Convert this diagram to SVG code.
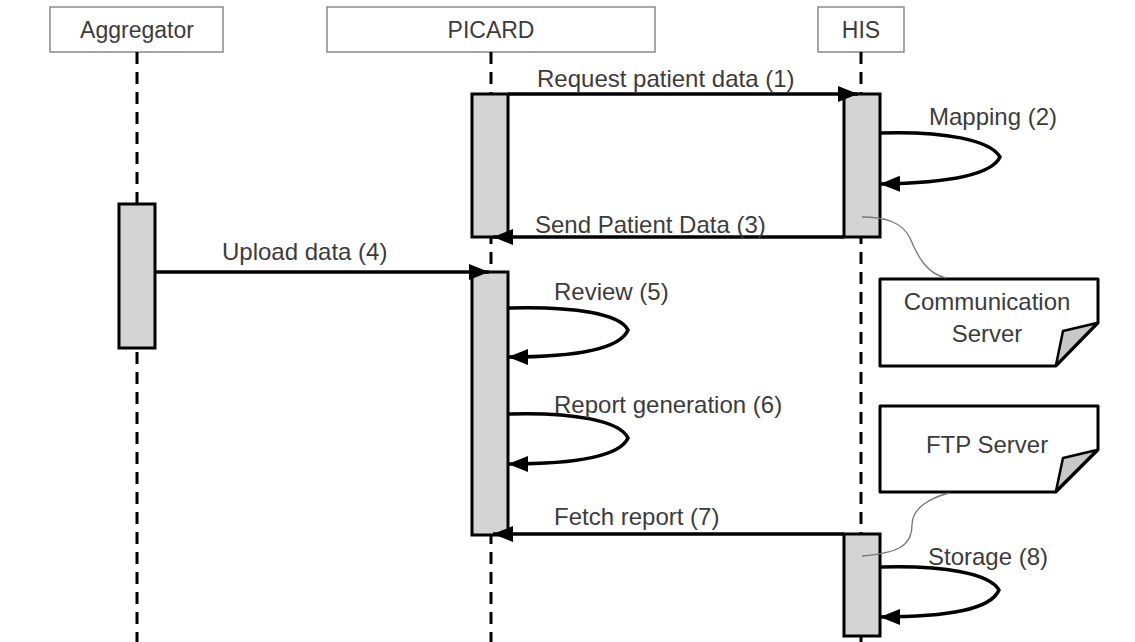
<svg xmlns="http://www.w3.org/2000/svg" width="1135" height="642" viewBox="0 0 1135 642">
<defs>
<marker id="ah" markerUnits="userSpaceOnUse" markerWidth="22" markerHeight="18" refX="20" refY="8" orient="auto">
<path d="M0,0 L20,8 L0,16 Z" fill="#000"/>
</marker>
<style>
.hdr{fill:#fff;stroke:#8a8a8a;stroke-width:1.5}
.ht{font-family:"Liberation Sans",Arial,sans-serif;font-size:23px;fill:#3c3c3c;text-anchor:middle}
.life{stroke:#000;stroke-width:3;stroke-dasharray:12 8;fill:none}
.act{fill:#d4d4d4;stroke:#000;stroke-width:3}
.msg{stroke:#000;stroke-width:3.5;fill:none;marker-end:url(#ah)}
.lbl{font-family:"Liberation Sans",Arial,sans-serif;font-size:24px;fill:#3c3c3c}
.note{fill:#fff;stroke:#000;stroke-width:3;stroke-linejoin:round}
.fold{fill:#c8c8c8;stroke:#000;stroke-width:2.5;stroke-linejoin:round}
.nt{font-family:"Liberation Sans",Arial,sans-serif;font-size:24px;fill:#3c3c3c;text-anchor:middle}
.link{stroke:#777;stroke-width:1.3;fill:none}
</style>
</defs>
<rect width="1135" height="642" fill="#fff"/>

<g id="aggregator">
<rect class="hdr" x="50" y="7" width="173" height="45"/>
<text class="ht" x="137" y="38">Aggregator</text>
<line class="life" x1="137" y1="52" x2="137" y2="642"/>
<rect class="act" x="119" y="204" width="36" height="144"/>
</g>

<g id="picard">
<rect class="hdr" x="327" y="7" width="328" height="45"/>
<text class="ht" x="491" y="38">PICARD</text>
<line class="life" x1="491" y1="52" x2="491" y2="642"/>
<rect class="act" x="472" y="94" width="36" height="143"/>
<rect class="act" x="472" y="272" width="36" height="263"/>
</g>

<g id="his">
<rect class="hdr" x="818" y="7" width="86" height="45"/>
<text class="ht" x="861" y="38">HIS</text>
<line class="life" x1="861" y1="52" x2="861" y2="642"/>
<rect class="act" x="844" y="94" width="36" height="143"/>
<rect class="act" x="844" y="534" width="36" height="102"/>
</g>

<g id="comm-server">
<path class="note" d="M880,279 H1098 V323 L1056,366 H880 Z"/>
<polygon class="fold" points="1063,331 1097,323 1056,365"/>
<text class="nt" x="987" y="310">Communication</text>
<text class="nt" x="987" y="342">Server</text>
</g>

<g id="ftp-server">
<path class="note" d="M880,406 H1098 V450 L1056,492 H880 Z"/>
<polygon class="fold" points="1063,458 1097,450 1056,491"/>
<text class="nt" x="987" y="453">FTP Server</text>
</g>

<g id="connectors">
<line class="msg" x1="508" y1="94" x2="858" y2="94"/>
<text class="lbl" x="537" y="87">Request patient data (1)</text>

<path class="msg" d="M880,133 C945,131 990,140 1000,157 C992,174 950,183 880,184"/>
<text class="lbl" x="929" y="125">Mapping (2)</text>

<line class="msg" x1="844" y1="237" x2="493" y2="237"/>
<text class="lbl" x="535" y="233">Send Patient Data (3)</text>

<line class="msg" x1="155" y1="272" x2="489" y2="272"/>
<text class="lbl" x="222" y="260">Upload data (4)</text>

<path class="msg" d="M508,308 C575,306 620,314 628,330 C620,349 578,357 508,357"/>
<text class="lbl" x="554" y="300">Review (5)</text>

<path class="msg" d="M508,414 C575,412 620,421 628,438 C620,456 578,464 508,464"/>
<text class="lbl" x="554" y="413">Report generation (6)</text>

<line class="msg" x1="844" y1="534" x2="493" y2="534"/>
<text class="lbl" x="554" y="525">Fetch report (7)</text>

<path class="msg" d="M880,567 C945,565 990,574 999,590 C991,609 950,617 880,617"/>
<text class="lbl" x="928" y="565">Storage (8)</text>

<path class="link" d="M862,217 C885,217 902,222 910,238 C918,258 928,274 946,278"/>
<path class="link" d="M949,493 C930,498 912,508 912,525 C912,546 898,553 862,556"/>
</g>
</svg>
